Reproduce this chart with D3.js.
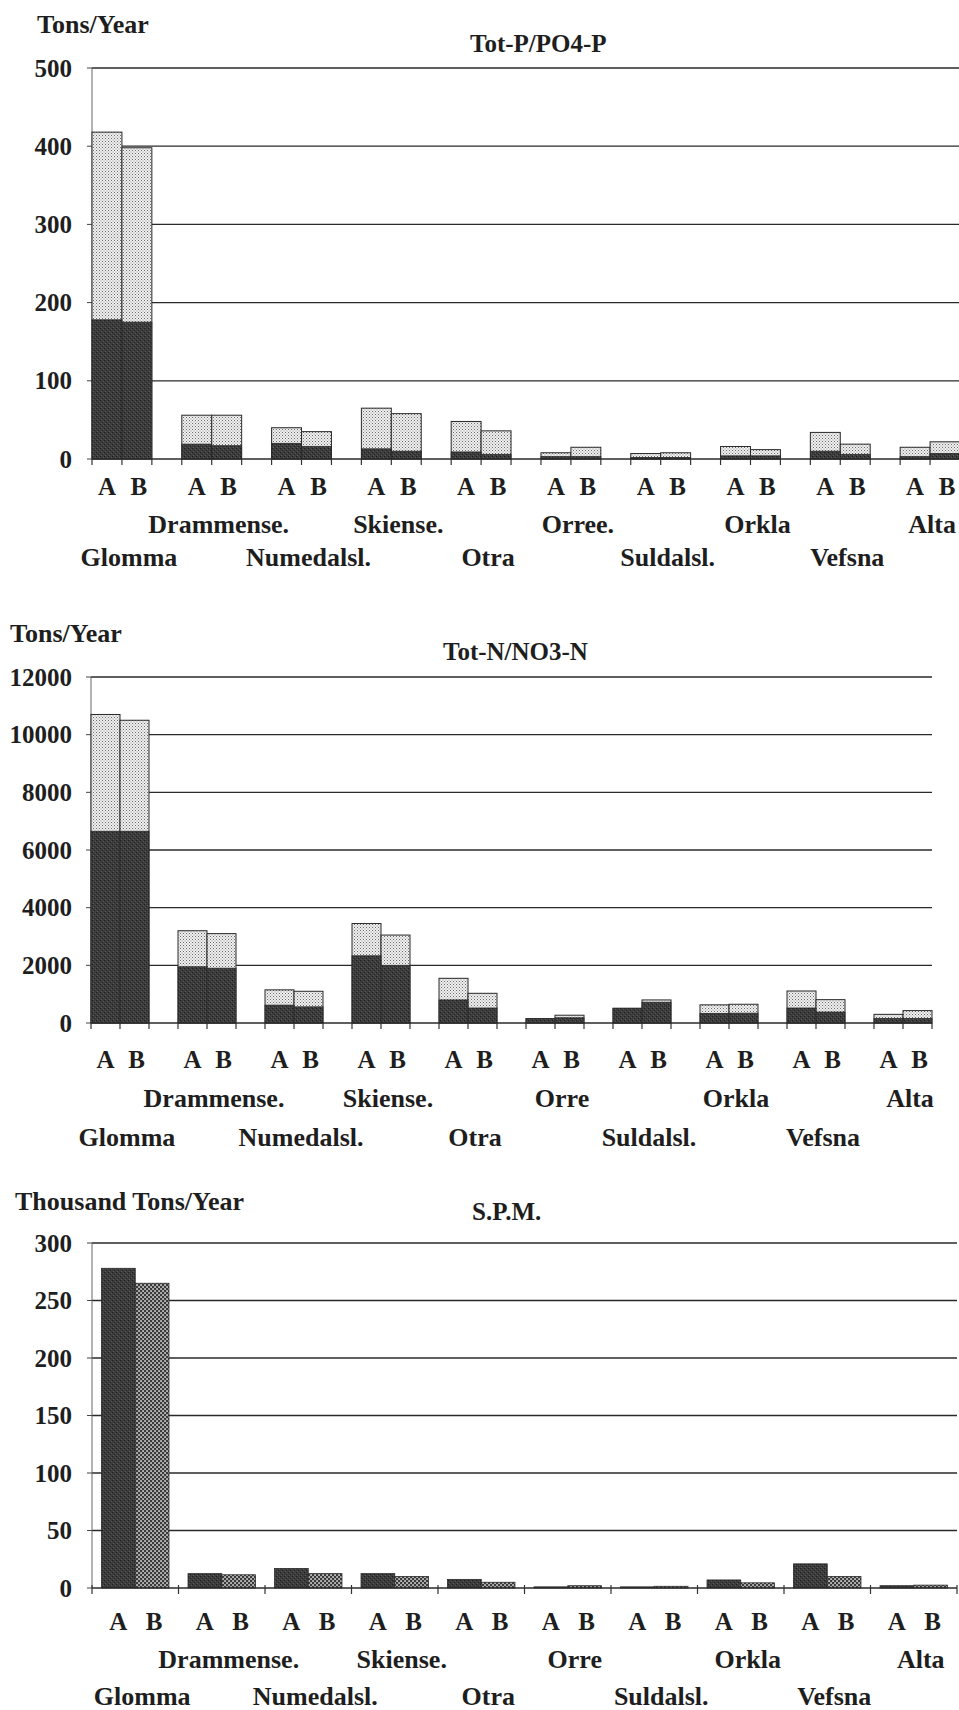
<!DOCTYPE html>
<html>
<head>
<meta charset="utf-8">
<script src="https://cdn.jsdelivr.net/npm/d3@7"></script>
<style>
  body { margin: 0; background: #fff; }
</style>
</head>
<body>
<svg id="chart"></svg>
<script>
// river names (the P chart spells Orre as "Orree.")
const riversP = ["Glomma", "Drammense.", "Numedalsl.", "Skiense.", "Otra", "Orree.", "Suldalsl.", "Orkla", "Vefsna", "Alta"];
const rivers = ["Glomma", "Drammense.", "Numedalsl.", "Skiense.", "Otra", "Orre", "Suldalsl.", "Orkla", "Vefsna", "Alta"];

// Tot-P (whole bar) and PO4-P (dark part), tons/year
const totPA = [418, 56, 40, 65, 48, 8, 7, 16, 34, 15];
const totPB = [398, 56, 35, 58, 36, 15, 8, 12, 19, 22];
const po4A = [178, 19, 20, 13, 9, 3, 2, 4, 10, 3];
const po4B = [175, 17, 16, 10, 6, 3, 2, 4, 6, 7];

// Tot-N (whole bar) and NO3-N (dark part), tons/year
const totNA = [10700, 3200, 1150, 3450, 1550, 150, 510, 630, 1110, 300];
const totNB = [10500, 3100, 1100, 3050, 1030, 270, 800, 650, 810, 430];
const no3A = [6650, 1950, 620, 2330, 800, 150, 510, 330, 520, 160];
const no3B = [6650, 1900, 560, 2000, 520, 180, 720, 340, 380, 160];

// suspended particulate matter, thousand tons/year
const spmA = [278, 12.5, 17, 12.5, 7.5, 1, 1, 7, 21, 2];
const spmB = [265, 11.5, 12.5, 10, 5, 2, 1.5, 4.5, 10, 2.5];

const pTicks = [0, 100, 200, 300, 400, 500];
const nTicks = [0, 2000, 4000, 6000, 8000, 10000, 12000];
const spmTicks = [0, 50, 100, 150, 200, 250, 300];

const svg = d3.select("#chart").attr("width", 959).attr("height", 1710)
  .attr("font-family", "'Liberation Serif', 'DejaVu Serif', 'Times New Roman', serif")
  .attr("font-weight", "bold");

// scan-like fills
const defs = svg.append("defs");
const light = defs.append("pattern").attr("id", "light")
  .attr("width", 3).attr("height", 3).attr("patternUnits", "userSpaceOnUse");
light.append("rect").attr("width", 3).attr("height", 3).attr("fill", "#f0f0f0");
light.append("rect").attr("x", 0).attr("y", 0).attr("width", 1).attr("height", 1).attr("fill", "#6a6a6a");
light.append("rect").attr("x", 1.5).attr("y", 1.5).attr("width", 1).attr("height", 1).attr("fill", "#8a8a8a");

const dark = defs.append("pattern").attr("id", "dark")
  .attr("width", 4).attr("height", 4).attr("patternUnits", "userSpaceOnUse");
dark.append("rect").attr("width", 4).attr("height", 4).attr("fill", "#3c3c3c");
dark.append("rect").attr("x", 0).attr("y", 0).attr("width", 1).attr("height", 1).attr("fill", "#1c1c1c");
dark.append("rect").attr("x", 2).attr("y", 2).attr("width", 1).attr("height", 1).attr("fill", "#222");
dark.append("rect").attr("x", 1).attr("y", 3).attr("width", 1).attr("height", 1).attr("fill", "#5c5c5c");
dark.append("rect").attr("x", 3).attr("y", 1).attr("width", 1).attr("height", 1).attr("fill", "#555");

const checker = defs.append("pattern").attr("id", "checker")
  .attr("width", 4).attr("height", 4).attr("patternUnits", "userSpaceOnUse");
checker.append("rect").attr("width", 4).attr("height", 4).attr("fill", "#3a3a3a");
checker.append("rect").attr("x", 0.3).attr("y", 0.3).attr("width", 1.5).attr("height", 1.5).attr("fill", "#fff");
checker.append("rect").attr("x", 2.3).attr("y", 2.3).attr("width", 1.5).attr("height", 1.5).attr("fill", "#fff");

function drawChart(o) {
  const g = svg.append("g").attr("fill", "#1e1e1e");
  const top = o.ticks[o.ticks.length - 1];
  const y = d3.scaleLinear().domain([0, top]).range([o.y0, o.y1]);
  const x = d3.scaleBand().domain(d3.range(o.labels.length)).range([o.left, o.right])
    .paddingInner(o.stacked ? 1 / 3 : 0).paddingOuter(0);
  const inset = o.stacked ? 0 : x.bandwidth() * 0.11;
  const sub = d3.scaleBand().domain(["A", "B"]).range([inset, x.bandwidth() - inset]);

  // unit and title
  g.append("text").attr("x", o.unitX).attr("y", o.unitY).attr("font-size", 26).text(o.unit);
  g.append("text").attr("x", o.titleX).attr("y", o.titleY).attr("font-size", 25).text(o.title);

  // gridlines
  g.selectAll("line.grid").data(o.ticks.filter((d) => d > 0)).join("line")
    .attr("x1", o.left).attr("x2", o.gridEnd)
    .attr("y1", (d) => y(d)).attr("y2", (d) => y(d))
    .attr("stroke", "#2a2a2a").attr("stroke-width", 1.3);

  // y axis
  g.append("line").attr("x1", o.left).attr("x2", o.left).attr("y1", y(0)).attr("y2", y(top))
    .attr("stroke", "#666").attr("stroke-width", 1);
  g.selectAll("line.ytick").data(o.ticks).join("line")
    .attr("x1", o.left - 5).attr("x2", o.left).attr("y1", (d) => y(d)).attr("y2", (d) => y(d))
    .attr("stroke", "#444");
  g.selectAll("text.ytick").data(o.ticks).join("text")
    .attr("x", 72).attr("y", (d) => y(d)).attr("dy", "0.34em")
    .attr("text-anchor", "end").attr("font-size", 25).text((d) => d);

  // one entry per bar
  const bars = [];
  o.labels.forEach((name, i) => {
    ["A", "B"].forEach((k) => {
      const tot = k === "A" ? o.totA[i] : o.totB[i];
      const part = o.partA ? (k === "A" ? o.partA[i] : o.partB[i]) : null;
      bars.push({ i, k, tot, part });
    });
  });
  const bx = (d) => x(d.i) + sub(d.k);
  if (o.stacked) {
    g.selectAll("rect.tot").data(bars).join("rect")
      .attr("x", bx).attr("width", sub.bandwidth())
      .attr("y", (d) => y(d.tot)).attr("height", (d) => y(0) - y(d.tot))
      .attr("fill", "url(#light)").attr("stroke", "#2a2a2a").attr("stroke-width", 1);
    g.selectAll("rect.part").data(bars).join("rect")
      .attr("x", bx).attr("width", sub.bandwidth())
      .attr("y", (d) => y(d.part)).attr("height", (d) => y(0) - y(d.part))
      .attr("fill", "url(#dark)").attr("stroke", "#2a2a2a").attr("stroke-width", 0.8);
  } else {
    g.selectAll("rect.tot").data(bars).join("rect")
      .attr("x", bx).attr("width", sub.bandwidth())
      .attr("y", (d) => y(d.tot)).attr("height", (d) => y(0) - y(d.tot))
      .attr("fill", (d) => (d.k === "A" ? "url(#dark)" : "url(#checker)"))
      .attr("stroke", "#2a2a2a").attr("stroke-width", 0.8);
  }

  // baseline and x ticks
  g.append("line").attr("x1", o.left).attr("x2", o.gridEnd).attr("y1", y(0)).attr("y2", y(0))
    .attr("stroke", "#2a2a2a").attr("stroke-width", 1.3);
  let xt;
  if (o.stacked) {
    xt = [];
    o.labels.forEach((n, i) => xt.push(x(i), x(i) + sub("B"), x(i) + x.bandwidth()));
  } else {
    xt = d3.range(o.labels.length + 1).map((i) => o.left + i * x.step());
  }
  g.selectAll("line.xtick").data(xt).join("line")
    .attr("x1", (d) => d).attr("x2", (d) => d)
    .attr("y1", y(0) - (o.stacked ? 0 : 3)).attr("y2", y(0) + 6)
    .attr("stroke", "#333").attr("stroke-width", 1.2);

  // A / B labels
  g.selectAll("text.ab").data(bars).join("text")
    .attr("x", (d) => bx(d) + sub.bandwidth() / 2 + (d.k === "B" ? 2 : 0))
    .attr("y", o.abY).attr("text-anchor", "middle").attr("font-size", 25).text((d) => d.k);

  // river names, alternating rows; keep the last one inside the page
  g.selectAll("text.river").data(o.labels).join("text")
    .attr("x", (d, i) => x(i) + x.bandwidth() / 2 + 7)
    .attr("y", (d, i) => (i % 2 === 0 ? o.row2Y : o.row1Y))
    .attr("text-anchor", "middle").attr("font-size", 26).text((d) => d)
    .each(function () {
      const b = this.getBBox();
      if (b.x + b.width > 956) d3.select(this).attr("x", +this.getAttribute("x") - (b.x + b.width - 956));
    });
}

drawChart({
  stacked: true, labels: riversP, totA: totPA, totB: totPB, partA: po4A, partB: po4B,
  ticks: pTicks, y0: 459, y1: 68, left: 92, right: 960, gridEnd: 959,
  unit: "Tons/Year", unitX: 37, unitY: 33, title: "Tot-P/PO4-P", titleX: 470, titleY: 52,
  abY: 495, row1Y: 533, row2Y: 566,
});

drawChart({
  stacked: true, labels: rivers, totA: totNA, totB: totNB, partA: no3A, partB: no3B,
  ticks: nTicks, y0: 1023, y1: 677, left: 91, right: 932, gridEnd: 932,
  unit: "Tons/Year", unitX: 10, unitY: 642, title: "Tot-N/NO3-N", titleX: 443, titleY: 660,
  abY: 1068, row1Y: 1107, row2Y: 1146,
});

drawChart({
  stacked: false, labels: rivers, totA: spmA, totB: spmB,
  ticks: spmTicks, y0: 1588, y1: 1243, left: 92, right: 957, gridEnd: 957,
  unit: "Thousand Tons/Year", unitX: 15, unitY: 1210, title: "S.P.M.", titleX: 472, titleY: 1220,
  abY: 1630, row1Y: 1668, row2Y: 1705,
});
</script>
</body>
</html>
